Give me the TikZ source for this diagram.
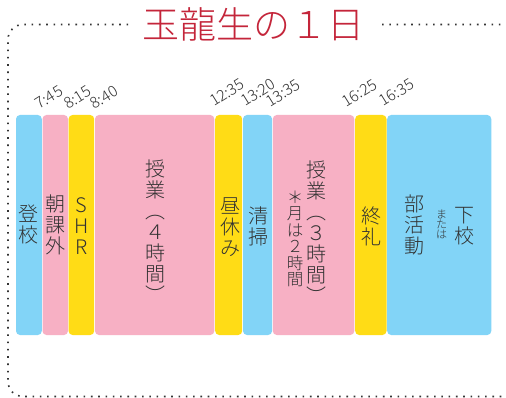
\documentclass[tikz,border=0pt]{standalone}
\usepackage{fontspec}
\newfontfamily\cjk{Noto Sans CJK JP Light}
\definecolor{cblue}{RGB}{130,212,247}
\definecolor{cpink}{RGB}{247,176,196}
\definecolor{cyel}{RGB}{255,220,22}
\definecolor{ctitle}{RGB}{196,37,58}
\definecolor{ctext}{RGB}{50,50,50}
\begin{document}
\begin{tikzpicture}[x=1pt,y=-1pt,
  blk/.style={rounded corners=4pt, inner sep=0pt, minimum height=220pt},
  frame/.style={draw=black!80, line width=1.6pt, dash pattern=on 1.6pt off 5.7pt, rounded corners=15pt},
  tlabel/.style={rotate=32, anchor=center, inner sep=0pt, text=ctext, font=\cjk\fontsize{15.5}{16}\selectfont},
  vbig/.style={align=center, inner sep=0pt, text=ctext, font=\cjk\fontsize{20}{21}\selectfont},
  vmid/.style={align=center, inner sep=0pt, text=ctext, font=\cjk\fontsize{16.5}{16.4}\selectfont},
  vsmall/.style={align=center, inner sep=0pt, text=ctext, font=\cjk\fontsize{11}{10.3}\selectfont}]
\useasboundingbox (0,0) rectangle (506,398);
\fill[white] (0,0) rectangle (506,398);
% frame
\draw[frame] (515,24.5) -- (8,24.5) -- (8,396.5) -- (515,396.5);
% title
\node[fill=white, inner ysep=0pt, minimum width=249pt, text=ctitle, font=\cjk\fontsize{37}{40}\selectfont] (title) at (253.3,24.2) {玉龍生の１日};
% blocks
\node[blk, fill=cblue, minimum width=25.8pt]  (b1) at (28.9,225) {};
\node[blk, fill=cpink, minimum width=25.5pt]  (b2) at (55.25,225) {};
\node[blk, fill=cyel,  minimum width=25.6pt]  (b3) at (81.4,225) {};
\node[blk, fill=cpink, minimum width=119.3pt] (b4) at (154.65,225) {};
\node[blk, fill=cyel,  minimum width=27.0pt]  (b5) at (228.7,225) {};
\node[blk, fill=cblue, minimum width=29.1pt]  (b6) at (257.55,225) {};
\node[blk, fill=cpink, minimum width=81.5pt]  (b7) at (313.55,225) {};
\node[blk, fill=cyel,  minimum width=31.3pt]  (b8) at (370.85,225) {};
\node[blk, fill=cblue, minimum width=104.1pt] (b9) at (439.25,225) {};
% time labels
\node[tlabel] (t1) at (49,97.5) {7:45};
\node[tlabel] (t2) at (77.5,97.5) {8:15};
\node[tlabel] (t3) at (104,97.5) {8:40};
\node[tlabel] (t4) at (226.8,92.5) {12:35};
\node[tlabel] (t5) at (257.8,92.5) {13:20};
\node[tlabel] (t6) at (283.3,93.3) {13:35};
\node[tlabel] (t7) at (359.5,93) {16:25};
\node[tlabel] (t8) at (396.7,92.5) {16:35};
% block texts
\node[vbig, anchor=north] (x1) at (29,205) {登\\校};
\node[vbig, anchor=north] (x2) at (55.5,195) {朝\\課\\外};
\node[vbig, anchor=north] (x3) at (81.5,197) {S\\H\\R};
\node[vbig, anchor=north] (x4) at (155,160) {授\\業\\︵\\４\\時\\間\\︶};
\node[vbig, anchor=north] (x5) at (230,197) {昼\\休\\み};
\node[vbig, anchor=north] (x6) at (258,207) {清\\掃};
\node[vbig, anchor=north] (x7) at (316,161) {授\\業\\︵\\３\\時\\間\\︶};
\node[vmid, anchor=south] (x8) at (295,287) {＊\\月\\は\\２\\時\\間};
\node[vbig, anchor=north] (x9) at (371.7,207) {終\\礼};
\node[vbig, anchor=north] (x10) at (414,195) {部\\活\\動};
\node[vsmall, anchor=north] (x11) at (441.7,209.5) {ま\\た\\は};
\node[vbig, anchor=north] (x12) at (464.5,206.7) {下\\校};
\end{tikzpicture}
\end{document}
